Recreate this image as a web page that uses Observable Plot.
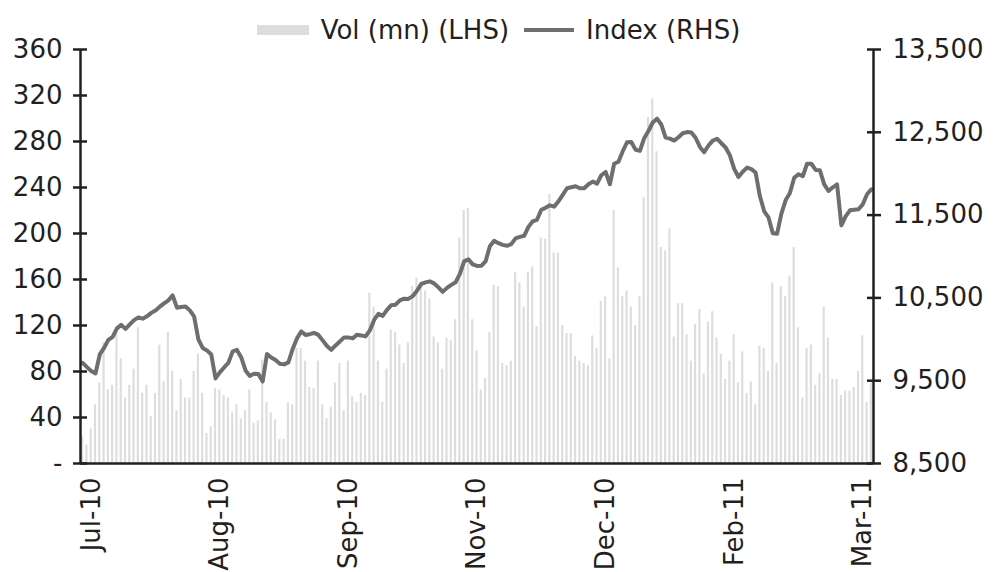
<!DOCTYPE html>
<html>
<head>
<meta charset="utf-8">
<script src="https://cdn.jsdelivr.net/npm/d3@7"></script>
<script src="https://cdn.jsdelivr.net/npm/@observablehq/plot@0.6"></script>
<style>
  body { margin: 0; background: #fff; font-family: "DejaVu Sans", sans-serif; color: #231f20; }
  #legend { box-sizing: border-box; height: 40px; padding-top: 20px; display: flex; justify-content: center; align-items: center; font-size: 26px; line-height: 20px; }
  #legend .sw-bar { width: 52px; height: 10px; background: #dcdddf; margin-right: 12px; }
  #legend .sw-line { width: 50px; height: 4px; background: #6d6e70; margin-right: 12px; margin-left: 15px; }
  #legend span { white-space: nowrap; }
</style>
</head>
<body>
<div id="legend">
  <div class="sw-bar"></div><span>Vol (mn) (LHS)</span>
  <div class="sw-line"></div><span>Index (RHS)</span>
</div>
<div id="chart"></div>
<script>
const volume = [
  23,16,30,51,70,105,64,68,114,91,
  57,68,82,118,61,68,41,61,103,71,
  114,80,46,73,57,57,80,95,61,26,
  32,65,64,59,57,44,51,39,46,64,
  35,37,90,53,44,38,21,21,53,51,
  100,100,89,66,65,89,51,39,49,70,
  87,46,89,58,53,61,59,148,136,89,
  53,82,116,114,103,87,105,154,161,157,
  150,143,110,105,82,109,107,125,196,220,
  222,125,98,64,74,114,155,154,87,85,
  89,166,157,136,166,171,119,196,195,234,
  183,183,120,113,113,93,89,87,85,111,
  100,141,145,91,220,170,145,150,136,120,
  145,231,301,317,271,188,185,204,110,139,
  139,112,89,121,134,78,123,132,109,95,
  73,89,112,70,97,61,71,51,102,100,
  80,157,87,154,145,163,188,118,57,100,
  103,68,78,136,109,73,73,59,63,63,
  66,80,111,53,70
];
const indexValues = [
  9715,9664,9618,9588,9817,9896,9993,10029,10132,10174,
  10126,10180,10232,10265,10249,10277,10319,10349,10394,10434,
  10470,10530,10382,10389,10397,10349,10277,9999,9896,9866,
  9817,9527,9600,9660,9715,9854,9872,9781,9624,9558,
  9584,9582,9491,9823,9781,9751,9705,9697,9721,9884,
  10011,10095,10053,10062,10077,10053,9987,9920,9872,9926,
  9974,10023,10023,10011,10055,10047,10035,10107,10234,10307,
  10283,10355,10412,10418,10470,10491,10488,10521,10587,10669,
  10688,10700,10675,10627,10573,10621,10657,10688,10790,10941,
  10966,10905,10886,10887,10941,11123,11189,11161,11141,11129,
  11149,11219,11237,11250,11358,11425,11443,11564,11588,11618,
  11602,11667,11745,11824,11836,11848,11824,11824,11872,11905,
  11880,11981,12021,11872,12120,12144,12271,12380,12382,12289,
  12276,12428,12516,12618,12664,12594,12436,12424,12400,12440,
  12488,12503,12499,12434,12323,12259,12340,12400,12422,12368,
  12317,12222,12059,11960,12023,12074,12056,12013,11727,11546,
  11473,11280,11274,11515,11679,11766,11951,11993,11969,12120,
  12120,12046,12041,11872,11791,11836,11872,11376,11485,11558,
  11564,11570,11630,11751,11812
];
const xTickIndex = [2, 32, 62, 92, 122, 152, 182];
const xTickLabels = ["Jul-10", "Aug-10", "Sep-10", "Nov-10", "Dec-10", "Feb-11", "Mar-11"];
const leftTicks = [0, 40, 80, 120, 160, 200, 240, 280, 320, 360];
const rightTicks = [8500, 9500, 10500, 11500, 12500, 13500];

const leftDomain = [leftTicks[0], leftTicks[leftTicks.length - 1]];
const rightDomain = [rightTicks[0], rightTicks[rightTicks.length - 1]];
const toLeft = (v) => (v - rightDomain[0]) / (rightDomain[1] - rightDomain[0]) * (leftDomain[1] - leftDomain[0]) + leftDomain[0];
const toRight = (v) => (v - leftDomain[0]) / (leftDomain[1] - leftDomain[0]) * (rightDomain[1] - rightDomain[0]) + rightDomain[0];

const data = volume.map((v, i) => ({i, vol: v, idx: indexValues[i]}));
const xDomain = [-0.5, volume.length - 0.5];
const ink = "#231f20";
const fmt = d3.format(",");

const chart = Plot.plot({
  width: 997,
  height: 532,
  marginTop: 9,
  marginBottom: 109,
  marginLeft: 80,
  marginRight: 124,
  x: {type: "linear", domain: xDomain, axis: null, label: null},
  y: {domain: leftDomain, axis: null, label: null},
  style: {fontFamily: "DejaVu Sans, sans-serif", fontSize: "26px", color: ink, background: "transparent", overflow: "visible"},
  marks: [
    Plot.rect(data, {x1: d => d.i - 0.25, x2: d => d.i + 0.25, y1: 0, y2: "vol", fill: "#dcdddf"}),
    Plot.line(data, {x: "i", y: d => toLeft(d.idx), stroke: "#6d6e70", strokeWidth: 4, strokeLinejoin: "round"}),
    Plot.ruleY([leftDomain[0]], {stroke: ink, strokeWidth: 2.5}),
    Plot.ruleX(xDomain, {stroke: ink, strokeWidth: 2.5}),
    Plot.axisY({anchor: "left", label: null, ticks: leftTicks, tickSize: 14, dx: 7, tickPadding: 11, strokeWidth: 2.5, stroke: ink,
      tickFormat: d => d === 0 ? "-" : String(d), fontSize: 26, fill: ink}),
    Plot.axisY({anchor: "right", label: null, ticks: rightTicks.map(toLeft), tickSize: 14, dx: -7, tickPadding: 12, strokeWidth: 2.5, stroke: ink,
      tickFormat: d => fmt(Math.round(toRight(d))), fontSize: 26, fill: ink}),
    Plot.axisX({label: null, ticks: xTickIndex, tickFormat: d => xTickLabels[xTickIndex.indexOf(d)], tickRotate: -90, tickSize: 0, tickPadding: 14, fontSize: 26, fill: ink})
  ]
});
document.getElementById("chart").appendChild(chart);
</script>
</body>
</html>
